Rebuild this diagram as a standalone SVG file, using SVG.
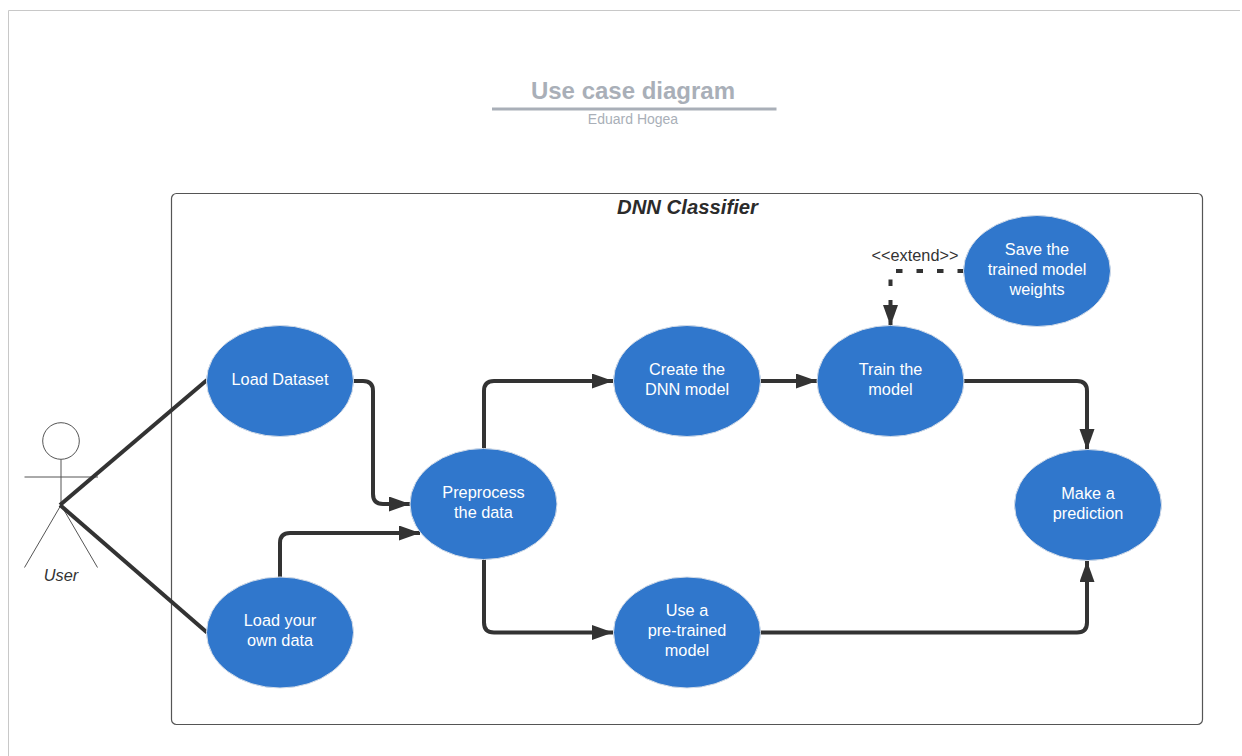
<svg xmlns="http://www.w3.org/2000/svg" width="1242" height="756" viewBox="0 0 1242 756">
<style>
text{font-family:"Liberation Sans",Arial,sans-serif}
.n ellipse{fill:#3077cc;stroke:#d5dde8;stroke-width:1}
.n text{fill:#fff;font-size:16.300px;text-anchor:middle}
.c{fill:none;stroke:#333;stroke-width:4}
.a{stroke:#555;stroke-width:1;fill:none}
</style>
<defs>
<marker id="ah" markerUnits="userSpaceOnUse" markerWidth="23" markerHeight="16" refX="21" refY="7.500" orient="auto"><path d="M0 0L21 7.500L0 15Z" fill="#333"/></marker>
</defs>
<rect width="1242" height="756" fill="#fff"/>
<path d="M8.500 756V10.500H1240" fill="none" stroke="#c8c8c8"/>
<g id="title">
<text x="633" y="99" font-size="24" font-weight="700" fill="#a9afb8" text-anchor="middle">Use case diagram</text>
<path d="M492 109H776.500" stroke="#a9afb8" stroke-width="3"/>
<text x="633" y="124" font-size="14" fill="#a9afb8" text-anchor="middle">Eduard Hogea</text>
</g>
<g id="boundary">
<rect x="171.500" y="193.500" width="1031" height="531" rx="5" fill="none" stroke="#555" stroke-width="1.200"/>
<text x="687.500" y="214" font-size="20.300" font-weight="700" font-style="italic" fill="#2b2b2b" text-anchor="middle">DNN Classifier</text>
</g>
<g id="actor-user">
<circle class="a" cx="61" cy="441" r="18.300"/>
<path class="a" d="M61 459.500V505M24.500 477H98M61 505L24.500 567.500M61 505L97.500 567.500"/>
<text x="61" y="581" font-size="16.300" font-style="italic" fill="#333" text-anchor="middle">User</text>
</g>
<g id="connectors">
<path class="c" d="M60 505L207 380"/>
<path class="c" d="M60 505L207 632.500"/>
<path class="c" d="M353 381H363Q373 381 373 391V494Q373 504 383 504H410" marker-end="url(#ah)"/>
<path class="c" d="M280 578V543Q280 533 290 533H420" marker-end="url(#ah)"/>
<path class="c" d="M484 449V391Q484 381 494 381H613" marker-end="url(#ah)"/>
<path class="c" d="M484 559V622.500Q484 632.500 494 632.500H613" marker-end="url(#ah)"/>
<path class="c" d="M760 381H817" marker-end="url(#ah)"/>
<path class="c" d="M963 381H1077Q1087 381 1087 391V450" marker-end="url(#ah)"/>
<path class="c" d="M760 632.500H1077Q1087 632.500 1087 622.500V561" marker-end="url(#ah)"/>
<path class="c" d="M964 271H890.500V326" stroke-dasharray="6.500 14" marker-end="url(#ah)"/>
<text x="915" y="261" font-size="16.300" fill="#333" text-anchor="middle">&lt;&lt;extend&gt;&gt;</text>
</g>
<g id="load-dataset" class="n"><ellipse cx="280" cy="381" rx="73.500" ry="55.500"/><text x="280" y="385">Load Dataset</text></g>
<g id="load-own" class="n"><ellipse cx="280" cy="632.500" rx="73.500" ry="55.500"/><text x="280" y="626">Load your</text><text x="280" y="646">own data</text></g>
<g id="preprocess" class="n"><ellipse cx="483.500" cy="504" rx="73.500" ry="55.500"/><text x="483.500" y="498">Preprocess</text><text x="483.500" y="518">the data</text></g>
<g id="create" class="n"><ellipse cx="687" cy="381" rx="73.500" ry="55.500"/><text x="687" y="375">Create the</text><text x="687" y="395">DNN model</text></g>
<g id="pretrained" class="n"><ellipse cx="687" cy="632.500" rx="73.500" ry="55.500"/><text x="687" y="616">Use a</text><text x="687" y="636">pre-trained</text><text x="687" y="656">model</text></g>
<g id="train" class="n"><ellipse cx="890.500" cy="381" rx="73.500" ry="55.500"/><text x="890.500" y="375">Train the</text><text x="890.500" y="395">model</text></g>
<g id="save" class="n"><ellipse cx="1037" cy="271" rx="73.500" ry="55.500"/><text x="1037" y="255">Save the</text><text x="1037" y="275">trained model</text><text x="1037" y="295">weights</text></g>
<g id="predict" class="n"><ellipse cx="1088" cy="505" rx="73.500" ry="55.500"/><text x="1088" y="499">Make a</text><text x="1088" y="519">prediction</text></g>
</svg>
